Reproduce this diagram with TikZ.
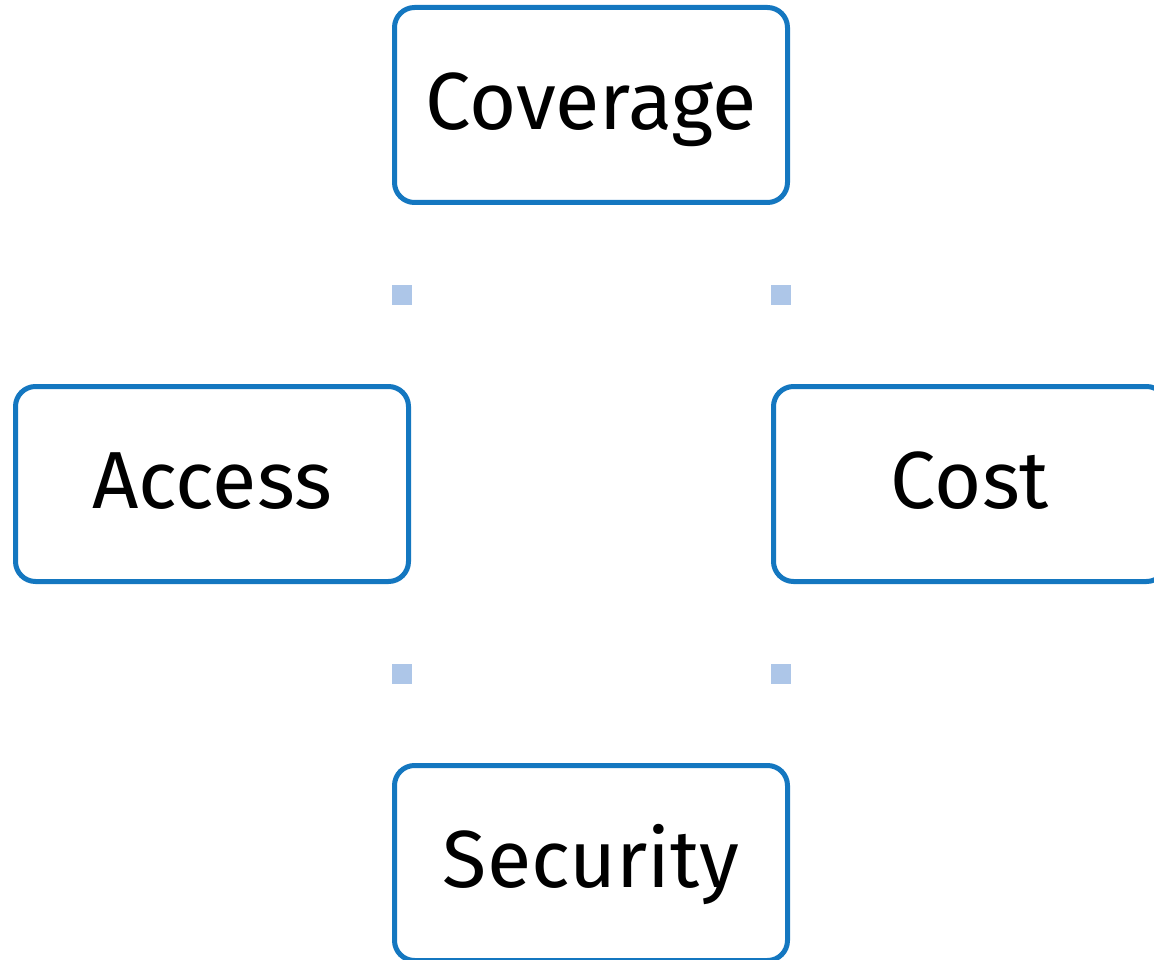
\documentclass[tikz,border=0pt]{standalone}
\usepackage{fontspec}
\setmainfont{Fira Sans}
\definecolor{boxblue}{HTML}{1477C0}
\definecolor{dotblue}{HTML}{ADC6E8}
\tikzset{
  topic/.style={draw=boxblue, line width=5pt, rounded corners=20pt, fill=white,
    minimum width=393pt, minimum height=195pt, inner sep=0pt,
    font=\fontsize{81}{94}\selectfont, text=black,
    text height=56pt, text depth=7pt},
  marker/.style={fill=dotblue, minimum size=20pt, inner sep=0pt}
}
\begin{document}
\begin{tikzpicture}[x=1pt, y=-1pt]
  \useasboundingbox (0,0) rectangle (1154,960);
  \clip (0,0) rectangle (1154,960);
  \node[topic] (coverage) at (591,105) {Coverage};
  \node[topic] (access)   at (212,484) {Access};
  \node[topic] (cost)     at (970,484) {Cost};
  \node[topic] (security) at (591,863) {Security};
  \node[marker] (m1) at (402,295) {};
  \node[marker] (m2) at (781,295) {};
  \node[marker] (m3) at (402,674) {};
  \node[marker] (m4) at (781,674) {};
\end{tikzpicture}
\end{document}
